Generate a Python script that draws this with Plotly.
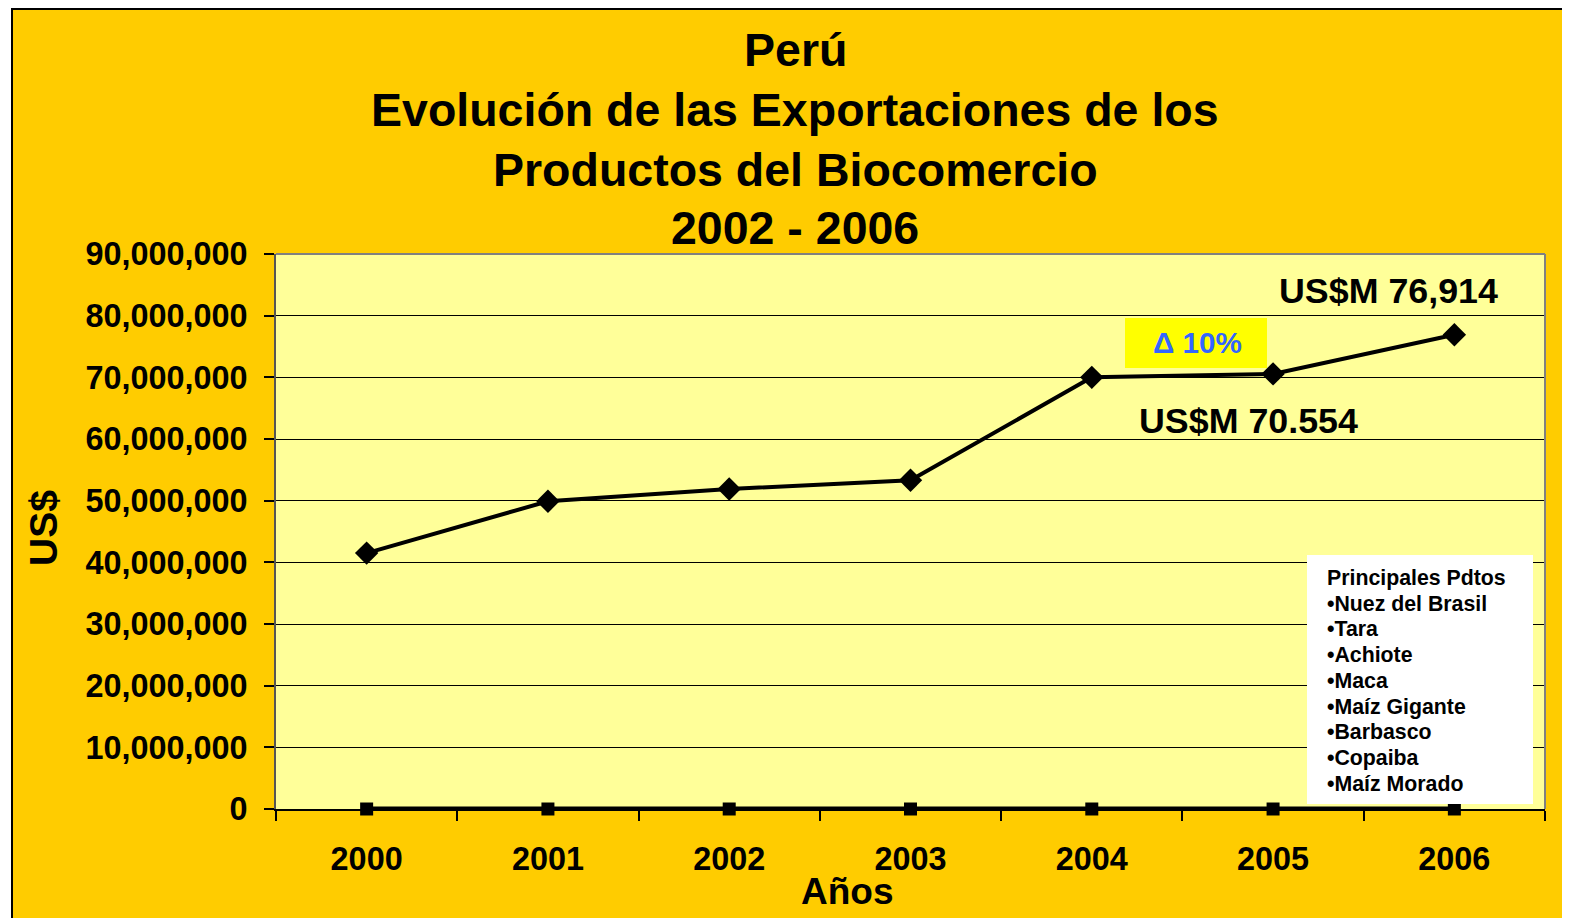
import plotly.graph_objects as go

# ---- data ----
years = ["2000", "2001", "2002", "2003", "2004", "2005", "2006"]
exports_usd = [41500000, 49900000, 51900000, 53300000, 70000000, 70554000, 76914000]
baseline = [0, 0, 0, 0, 0, 0, 0]
y_ticks = [0, 10000000, 20000000, 30000000, 40000000, 50000000, 60000000, 70000000, 80000000, 90000000]
title_lines = ["Perú", "Evolución de las Exportaciones de los", "Productos del Biocomercio", "2002 - 2006"]
products_title = "Principales Pdtos"
products = ["Nuez del Brasil", "Tara", "Achiote", "Maca", "Maíz Gigante", "Barbasco", "Copaiba", "Maíz Morado"]
label_2006 = "US$M 76,914"
label_2005 = "US$M 70.554"
growth_label = "Δ 10%"

# ---- layout geometry (screen pixels; page has an 8px body margin) ----
OFF = 8
W, H = 1570, 918
SL, SR, ST, SB = 276, 1545, 254, 809  # plot area on screen
L, R, T, B = SL - OFF, SR - OFF, ST - OFF, SB - OFF
PW, PH = R - L, B - T


def px(x):
    return (x - SL) / PW


def py(y):
    return (SB - y) / PH


FONT = "Liberation Sans, Arial, sans-serif"

fig = go.Figure()
fig.add_trace(go.Scatter(
    x=years, y=baseline, mode="lines+markers",
    line=dict(color="black", width=5),
    marker=dict(symbol="square", size=13, color="black"),
    cliponaxis=False, showlegend=False,
))
fig.add_trace(go.Scatter(
    x=years, y=exports_usd, mode="lines+markers",
    line=dict(color="black", width=4),
    marker=dict(symbol="diamond", size=18, color="black"),
    cliponaxis=False, showlegend=False,
))

shapes = [
    # white strip left of frame
    dict(type="rect", xref="paper", yref="paper", x0=px(0), x1=px(11), y0=py(1000), y1=py(0),
         fillcolor="white", line=dict(width=0), layer="above"),
    # frame border lines (top, left)
    dict(type="line", xref="paper", yref="paper", x0=px(11), x1=px(1600), y0=py(9), y1=py(9),
         line=dict(color="black", width=2), layer="above"),
    dict(type="line", xref="paper", yref="paper", x0=px(12), x1=px(12), y0=py(8), y1=py(1000),
         line=dict(color="black", width=2), layer="above"),
    # plot border (top, right)
    dict(type="line", xref="paper", yref="paper", x0=0, x1=1, y0=1, y1=1,
         line=dict(color="#808080", width=2), layer="above"),
    dict(type="line", xref="paper", yref="paper", x0=1, x1=1, y0=0, y1=1,
         line=dict(color="#808080", width=2), layer="above"),
    # growth box
    dict(type="rect", xref="paper", yref="paper", x0=px(1125), x1=px(1267), y0=py(368), y1=py(318),
         fillcolor="#FFFF00", line=dict(width=0), layer="above"),
    # products box
    dict(type="rect", xref="paper", yref="paper", x0=px(1307), x1=px(1533), y0=py(804), y1=py(555),
         fillcolor="white", line=dict(width=0), layer="above"),
]

annotations = []
for i, t in enumerate(title_lines):
    yc = [50, 110, 170, 228][i]
    annotations.append(dict(text=f"<b>{t}</b>", x=px(795), y=py(yc), xref="paper", yref="paper",
                            showarrow=False, xanchor="center", yanchor="middle",
                            font=dict(size=46.5, color="black", family=FONT)))

annotations += [
    dict(text="<b>US$</b>", x=px(43), y=py(528), xref="paper", yref="paper", textangle=-90,
         showarrow=False, xanchor="center", yanchor="middle", font=dict(size=39, color="black", family=FONT)),
    dict(text="<b>Años</b>", x=px(847), y=py(891), xref="paper", yref="paper",
         showarrow=False, xanchor="center", yanchor="middle", font=dict(size=37, color="black", family=FONT)),
    dict(text=f"<b>{label_2006}</b>", x=px(1388), y=py(291), xref="paper", yref="paper",
         showarrow=False, xanchor="center", yanchor="middle", font=dict(size=35.8, color="black", family=FONT)),
    dict(text=f"<b>{label_2005}</b>", x=px(1248), y=py(421), xref="paper", yref="paper",
         showarrow=False, xanchor="center", yanchor="middle", font=dict(size=35.8, color="black", family=FONT)),
    dict(text=f"<b>{growth_label}</b>", x=px(1197), y=py(342), xref="paper", yref="paper",
         showarrow=False, xanchor="center", yanchor="middle", font=dict(size=29.7, color="#3366FF", family=FONT)),
]

lines = [products_title] + ["•" + p for p in products]
for i, t in enumerate(lines):
    yc = 578 + i * 25.7
    annotations.append(dict(text=f"<b>{t}</b>", x=px(1325), y=py(yc), xref="paper", yref="paper",
                            showarrow=False, xanchor="left", yanchor="middle",
                            font=dict(size=21.3, color="black", family=FONT)))

fig.update_layout(
    width=W, height=H,
    margin=dict(l=L, r=W - R, t=T, b=H - B, pad=0),
    paper_bgcolor="#FFCC00",
    plot_bgcolor="#FFFF99",
    shapes=shapes,
    annotations=annotations,
    xaxis=dict(
        type="category", range=[-0.5, 6.5], tickson="boundaries",
        ticks="outside", ticklen=10, tickwidth=2, tickcolor="black",
        showline=True, linecolor="black", linewidth=2, showgrid=False, zeroline=False,
        tickfont=dict(size=32.4, color="black", family=FONT, weight="bold"),
        ticklabelstandoff=20,
    ),
    yaxis=dict(
        range=[0, 90000000], tickvals=y_ticks, tickformat=",d",
        ticks="outside", ticklen=10, tickwidth=2, tickcolor="black",
        showline=True, linecolor="#555555", linewidth=2,
        showgrid=True, gridcolor="black", gridwidth=1, zeroline=False,
        tickfont=dict(size=32.4, color="black", family=FONT, weight="bold"),
        ticklabelstandoff=10,
    ),
)

fig.write_html("out.html")
